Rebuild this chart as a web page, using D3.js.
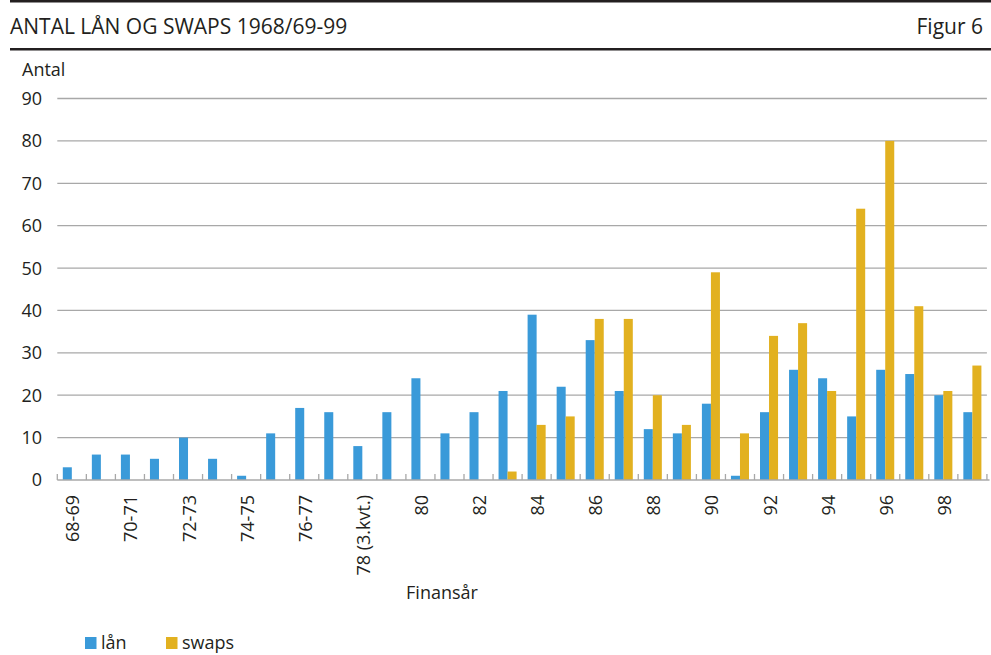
<!DOCTYPE html>
<html>
<head>
<meta charset="utf-8">
<script src="https://cdn.jsdelivr.net/npm/d3@7"></script>
<style>
  body { margin: 0; background: #fff; }
  text { font-family: "Open Sans", "Noto Sans", sans-serif; fill: #231f20; }
</style>
</head>
<body>
<svg id="chart"></svg>
<script>
const width = 991;
const height = 655;

// data
const categories = ["68-69","69-70","70-71","71-72","72-73","73-74","74-75","75-76","76-77","77-78",
  "78 (3.kvt.)","79","80","81","82","83","84","85","86","87","88","89","90","91","92","93","94","95","96","97","98","99"];
const tickLabels = ["68-69","70-71","72-73","74-75","76-77","78 (3.kvt.)","80","82","84","86","88","90","92","94","96","98"];
const laan  = [3,6,6,5,10,5,1,11,17,16,8,16,24,11,16,21,39,22,33,21,12,11,18,1,16,26,24,15,26,25,20,16];
const swaps = [0,0,0,0,0,0,0,0,0,0,0,0,0,0,0,2,13,15,38,38,20,13,49,11,34,37,21,64,80,41,21,27];
const series = ["lån", "swaps"];
const colors = ["#3a9ad9", "#e2b120"];
const yTicks = [0,10,20,30,40,50,60,70,80,90];

const rows = categories.map((c, i) => ({cat: c, values: [laan[i], swaps[i]]}));
const fs = 18;

const svg = d3.select("#chart")
  .attr("width", width)
  .attr("height", height);

// header rules and title
svg.append("rect").attr("x", 10).attr("y", 0).attr("width", width - 10).attr("height", 2.5).attr("fill", "#231f20");
svg.append("rect").attr("x", 10).attr("y", 48).attr("width", width - 10).attr("height", 2.5).attr("fill", "#231f20");
svg.append("text").attr("x", 10).attr("y", 34).attr("font-size", 21).text("ANTAL LÅN OG SWAPS 1968/69-99");
svg.append("text").attr("x", 983).attr("y", 34).attr("font-size", 21).attr("text-anchor", "end").text("Figur 6");

const left = 57.3, right = 986.9;
const x0 = d3.scaleBand().domain(categories).range([left, right]).padding(0);
const x1 = d3.scaleBand().domain(series).range([0, x0.bandwidth()]).paddingInner(0).paddingOuter(0.61);
const y = d3.scaleLinear().domain([0, 90]).range([480, 98.5]);

// gridlines
svg.append("g")
  .selectAll("line")
  .data(yTicks.filter(d => d > 0))
  .join("line")
  .attr("x1", left).attr("x2", right)
  .attr("y1", d => y(d)).attr("y2", d => y(d))
  .attr("stroke", "#a8a8a8").attr("stroke-width", 1.3);

// y labels
svg.append("g")
  .selectAll("text")
  .data(yTicks)
  .join("text")
  .attr("x", 42)
  .attr("y", d => y(d))
  .attr("dy", "0.36em")
  .attr("text-anchor", "end")
  .attr("font-size", fs)
  .text(d => d);

svg.append("text").attr("x", 22).attr("y", 76).attr("font-size", fs).text("Antal");

// bars
svg.append("g")
  .selectAll("g")
  .data(rows)
  .join("g")
  .attr("transform", d => `translate(${x0(d.cat)},0)`)
  .selectAll("rect")
  .data(d => d.values.map((v, i) => ({key: series[i], value: v, i})))
  .join("rect")
  .attr("x", d => x1(d.key))
  .attr("width", x1.bandwidth())
  .attr("y", d => y(d.value))
  .attr("height", d => y(0) - y(d.value))
  .attr("fill", d => colors[d.i]);

// x axis
const xAxis = svg.append("g");
xAxis.append("line")
  .attr("x1", left).attr("x2", 989.5)
  .attr("y1", y(0)).attr("y2", y(0))
  .attr("stroke", "#a8a8a8").attr("stroke-width", 1.5);
xAxis.selectAll("line.tick")
  .data(d3.range(categories.length + 1))
  .join("line")
  .attr("class", "tick")
  .attr("x1", i => left + i * x0.step()).attr("x2", i => left + i * x0.step())
  .attr("y1", y(0) - 6).attr("y2", y(0))
  .attr("stroke", "#a8a8a8").attr("stroke-width", 1.3);
xAxis.selectAll("text")
  .data(tickLabels)
  .join("text")
  .attr("transform", d => `translate(${x0(d) + x0.bandwidth() / 2 + 1},495) rotate(-90)`)
  .attr("dy", "0.36em")
  .attr("text-anchor", "end")
  .attr("font-size", fs)
  .text(d => d);

svg.append("text").attr("x", 442).attr("y", 599).attr("font-size", fs).attr("text-anchor", "middle").text("Finansår");

// legend
const legend = svg.append("g")
  .selectAll("g")
  .data(series)
  .join("g")
  .attr("transform", (d, i) => `translate(${85 + i * 81},637)`);
legend.append("rect").attr("width", 11.5).attr("height", 12).attr("fill", (d, i) => colors[i]);
legend.append("text").attr("x", 16).attr("y", 12).attr("font-size", fs).text(d => d);
</script>
</body>
</html>
